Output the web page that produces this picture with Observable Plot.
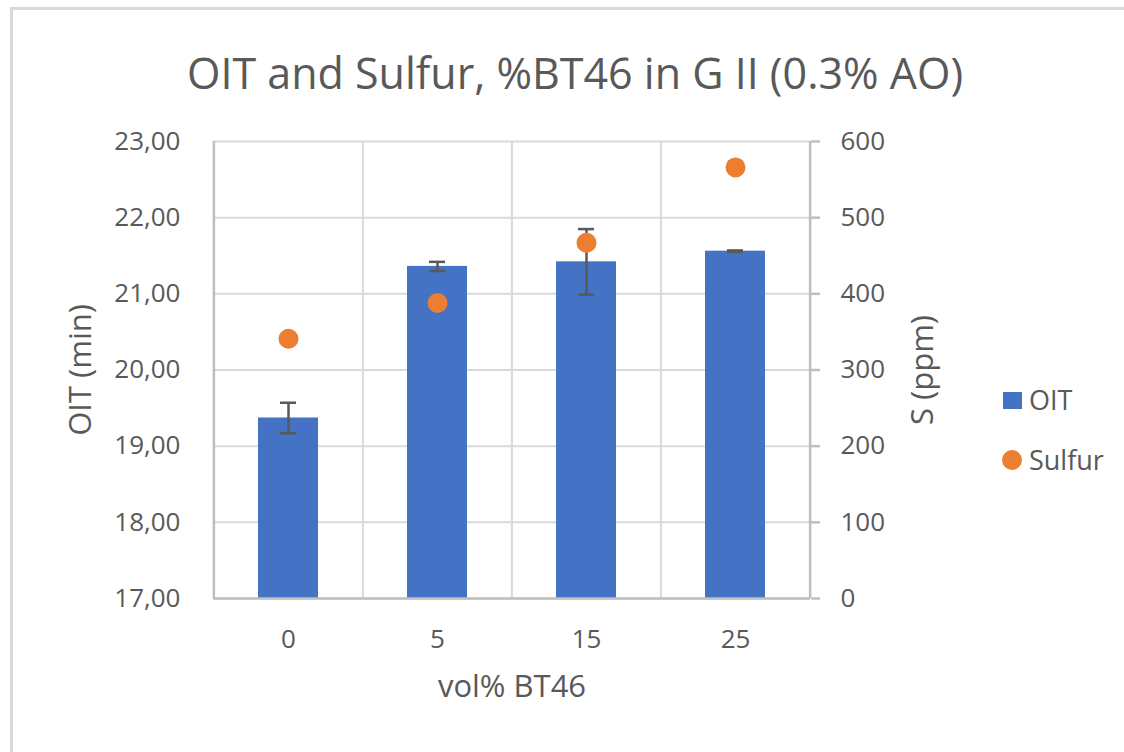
<!DOCTYPE html>
<html>
<head>
<meta charset="utf-8">
<script src="https://cdn.jsdelivr.net/npm/d3@7"></script>
<script src="https://cdn.jsdelivr.net/npm/@observablehq/plot@0.6"></script>
<style>
  body { margin: 0; background: #fff; }
  #wrap { position: relative; width: 1124px; height: 752px; overflow: hidden; font-family: "Open Sans", sans-serif; color: #595959; background: #fff; }
  #border { position: absolute; left: 10px; top: 7px; width: 1300px; height: 900px; border-top: 3px solid #d9d9d9; border-left: 3px solid #d9d9d9; }
  #chart { position: absolute; left: 0; top: 0; }
  #title { position: absolute; left: 0; top: 44px; width: 1150px; text-align: center; font-size: 43px; line-height: 58px; white-space: nowrap; }
  .leg { position: absolute; left: 1000px; font-size: 27px; line-height: 32px; display: flex; align-items: center; white-space: nowrap; }
  .sw { display: inline-block; margin-right: 7px; }
</style>
</head>
<body>
<div id="wrap">
  <div id="border"></div>
  <div id="chart"></div>
  <div id="title">OIT and Sulfur, %BT46 in G II (0.3% AO)</div>
  <div id="legend"></div>
</div>
<script>
// ---- data ----
const categories = ["0", "5", "15", "25"];
const oitValues = [19.37, 21.36, 21.42, 21.56];
const oitErrors = [0.20, 0.06, 0.43, 0.01];
const sulfurValues = [341, 388, 467, 566];
const oitTicks = [17, 18, 19, 20, 21, 22, 23];
const sulfurTicks = [0, 100, 200, 300, 400, 500, 600];
const seriesNames = ["OIT", "Sulfur"];
const seriesColors = ["#4472C4", "#ED7D31"];

// ---- layout ----
const W = 1124, H = 752;
const mLeft = 213, mRight = 314, mTop = 141, mBottom = 154;
const padInner = 0.6, padOuter = padInner / 2;
const step = (W - mLeft - mRight) / categories.length;
const textColor = "#595959", gridColor = "#d9d9d9", axisColor = "#bfbfbf";

const oitDomain = [oitTicks[0], oitTicks[oitTicks.length - 1]];
const sDomain = [sulfurTicks[0], sulfurTicks[sulfurTicks.length - 1]];
const toOit = s => oitDomain[0] + (s - sDomain[0]) * (oitDomain[1] - oitDomain[0]) / (sDomain[1] - sDomain[0]);
const fromOit = v => sDomain[0] + (v - oitDomain[0]) * (sDomain[1] - sDomain[0]) / (oitDomain[1] - oitDomain[0]);

const rows = categories.map((c, i) => ({c, oit: oitValues[i], err: oitErrors[i], s: sulfurValues[i]}));

const chart = Plot.plot({
  width: W, height: H,
  marginLeft: mLeft, marginRight: mRight, marginTop: mTop, marginBottom: mBottom,
  style: {fontFamily: '"Open Sans", sans-serif', fontSize: "26px", color: textColor, background: "transparent", overflow: "visible"},
  x: {type: "band", domain: categories, paddingInner: padInner, paddingOuter: padOuter},
  y: {domain: oitDomain},
  marks: [
    Plot.gridY({ticks: oitTicks, stroke: gridColor, strokeOpacity: 1, strokeWidth: 2}),
    Plot.ruleX(categories.slice(1), {x: d => d, dx: -step / 2, stroke: gridColor, strokeWidth: 2}),
    Plot.ruleX([categories[0]], {x: d => d, dx: -step / 2, stroke: axisColor, strokeWidth: 2.5}),
    Plot.ruleX([categories[categories.length - 1]], {x: d => d, dx: step / 2, stroke: axisColor, strokeWidth: 2.5}),
    Plot.barY(rows, {x: "c", y1: () => oitDomain[0], y2: "oit", fill: seriesColors[0]}),
    Plot.ruleY([oitDomain[0]], {stroke: axisColor, strokeWidth: 2.5}),
    Plot.ruleX(rows, {x: "c", y1: d => d.oit - d.err, y2: d => d.oit + d.err, stroke: textColor, strokeWidth: 2.5}),
    Plot.tickY(rows, {x: "c", y: d => d.oit + d.err, insetLeft: 22, insetRight: 22, stroke: textColor, strokeWidth: 2.5}),
    Plot.tickY(rows, {x: "c", y: d => d.oit - d.err, insetLeft: 22, insetRight: 22, stroke: textColor, strokeWidth: 2.5}),
    Plot.dot(rows, {x: "c", y: d => toOit(d.s), r: 10, fill: seriesColors[1], stroke: null}),
    Plot.axisY({ticks: oitTicks, anchor: "left", tickSize: 0, tickPadding: 33, label: null,
      tickFormat: d => d.toFixed(2).replace(".", ","), fill: textColor}),
    Plot.axisY({ticks: sulfurTicks.map(toOit), anchor: "right", tickSize: 9, tickPadding: 21, label: null,
      tickFormat: d => String(Math.round(fromOit(d))), stroke: axisColor, strokeWidth: 2.5, fill: textColor}),
    Plot.axisX({tickSize: 0, tickPadding: 31, label: null, fill: textColor}),
    Plot.text(["OIT (min)"], {text: d => d, frameAnchor: "left", textAnchor: "middle", rotate: -90, dx: -132, fill: textColor, fontSize: 31}),
    Plot.text(["S (ppm)"], {text: d => d, frameAnchor: "right", textAnchor: "middle", rotate: -90, dx: 113, fill: textColor, fontSize: 31}),
    Plot.text(["vol% BT46"], {text: d => d, frameAnchor: "bottom", dy: 98, fill: textColor, fontSize: 31})
  ]
});
document.getElementById("chart").appendChild(chart);

// ---- legend ----
const legend = document.getElementById("legend");
const legendTops = [384, 444];
seriesNames.forEach((name, i) => {
  const item = document.createElement("div");
  item.className = "leg";
  item.style.top = legendTops[i] + "px";
  const sw = document.createElement("span");
  sw.className = "sw";
  sw.style.background = seriesColors[i];
  if (i === 0) { sw.style.width = "19px"; sw.style.height = "17px"; sw.style.marginLeft = "3px"; }
  else { sw.style.width = "20px"; sw.style.height = "20px"; sw.style.borderRadius = "50%"; sw.style.marginLeft = "2px"; }
  item.appendChild(sw);
  item.appendChild(document.createTextNode(name));
  legend.appendChild(item);
});
</script>
</body>
</html>
